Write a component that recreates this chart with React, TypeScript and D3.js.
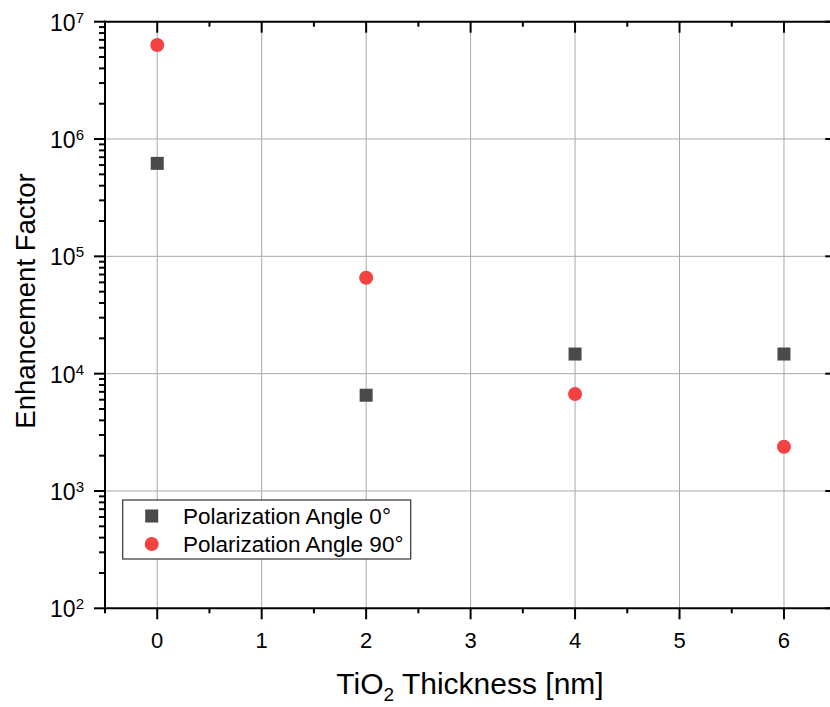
import React from "react";
import * as d3 from "d3";

const thickness = [0, 2, 4, 6];
const angle0 = [6.2e5, 6.55e3, 1.47e4, 1.47e4];
const angle90 = [6.33e6, 6.57e4, 6.7e3, 2.38e3];
const seriesNames = ["Polarization Angle 0°", "Polarization Angle 90°"];
const xTickValues = [0, 1, 2, 3, 4, 5, 6];
const yDecades = [2, 3, 4, 5, 6, 7];

const W = 830;
const H = 707;
const L = 105, R = 836.2, T = 21.7, B = 608.3;
const FONT = "'Liberation Sans', Arial, sans-serif";
const SQ = "#4a4a4a";
const RED = "#f24242";
const GRID = "#a8a8a8";

export default function App() {
  const x = d3.scaleLinear().domain([-0.5, 6.5]).range([L, R]);
  const y = d3.scaleLog().domain([1e2, 1e7]).range([B, T]);
  const minorX = d3.range(-0.5, 6.51, 1);
  const yAll = y.ticks().filter((v) => v >= 1e2 && v <= 1e7);
  const isDecade = (v: number) => Math.abs(Math.log10(v) - Math.round(Math.log10(v))) < 1e-9;
  const yMinor = yAll.filter((v) => !isDecade(v));

  return (
    <svg width={W} height={H} style={{ position: "absolute", left: 0, top: 0, background: "#fff" }} fontFamily={FONT}>
      {/* grid */}
      {xTickValues.map((v) => (
        <line key={"gx" + v} x1={x(v)} x2={x(v)} y1={T} y2={B} stroke={GRID} strokeWidth={1} />
      ))}
      {yDecades.slice(1, -1).map((d) => (
        <line key={"gy" + d} x1={L} x2={R} y1={y(Math.pow(10, d))} y2={y(Math.pow(10, d))} stroke={GRID} strokeWidth={1} />
      ))}
      {/* axes lines */}
      <g stroke="#000" strokeWidth={2} fill="none">
        <line x1={L} x2={L} y1={T - 1} y2={B + 1} />
        <line x1={R} x2={R} y1={T - 1} y2={B + 1} />
        <line x1={L - 1} x2={R + 1} y1={B} y2={B} />
        <line x1={L - 1} x2={R + 1} y1={T} y2={T} />
      </g>
      {/* ticks */}
      <g stroke="#000" strokeWidth={2}>
        {xTickValues.map((v) => (
          <g key={"xt" + v}>
            <line x1={x(v)} x2={x(v)} y1={B} y2={B + 11} />
            <line x1={x(v)} x2={x(v)} y1={T} y2={T + 11} />
          </g>
        ))}
        {minorX.map((v) => (
          <g key={"xm" + v}>
            <line x1={x(v)} x2={x(v)} y1={B} y2={B + 5} />
            <line x1={x(v)} x2={x(v)} y1={T} y2={T + 5} />
          </g>
        ))}
        {yDecades.map((d) => (
          <g key={"yt" + d}>
            <line x1={L - 11} x2={L} y1={y(Math.pow(10, d))} y2={y(Math.pow(10, d))} />
            <line x1={R - 11} x2={R} y1={y(Math.pow(10, d))} y2={y(Math.pow(10, d))} />
          </g>
        ))}
        {yMinor.map((v, i) => (
          <g key={"ym" + i}>
            <line x1={L - 6} x2={L} y1={y(v)} y2={y(v)} />
            <line x1={R - 6} x2={R} y1={y(v)} y2={y(v)} />
          </g>
        ))}
      </g>
      {/* tick labels */}
      {xTickValues.map((v) => (
        <text key={"xl" + v} x={x(v)} y={648} textAnchor="middle" fontSize={22} fill="#000">
          {v}
        </text>
      ))}
      {yDecades.map((d) => (
        <text key={"yl" + d} x={84} y={y(Math.pow(10, d)) + 9} textAnchor="end" fontSize={23} fill="#000">
          10
          <tspan fontSize={15} dy={-8}>{d}</tspan>
        </text>
      ))}
      {/* axis titles */}
      <text x={470} y={694} textAnchor="middle" fontSize={30} fill="#000">
        TiO<tspan fontSize={19} dy={7}>2</tspan>
        <tspan dy={-7}> Thickness [nm]</tspan>
      </text>
      <text transform={`translate(35,301) rotate(-90)`} textAnchor="middle" fontSize={27.5} fill="#000">
        Enhancement Factor
      </text>
      {/* data */}
      {thickness.map((t, i) => (
        <rect key={"s" + i} x={x(t) - 6.5} y={y(angle0[i]) - 6.5} width={13} height={13} fill={SQ} />
      ))}
      {thickness.map((t, i) => (
        <circle key={"c" + i} cx={x(t)} cy={y(angle90[i])} r={7} fill={RED} />
      ))}
      {/* legend */}
      <rect x={122.7} y={500} width={288} height={59} fill="#fff" stroke="#333" strokeWidth={1.2} />
      <rect x={151.7 - 6.5} y={516 - 6.5} width={13} height={13} fill={SQ} />
      <circle cx={151.7} cy={544} r={7} fill={RED} />
      <text x={183} y={524} fontSize={22.5} fill="#000">{seriesNames[0]}</text>
      <text x={183} y={552} fontSize={22.5} fill="#000">{seriesNames[1]}</text>
    </svg>
  );
}
